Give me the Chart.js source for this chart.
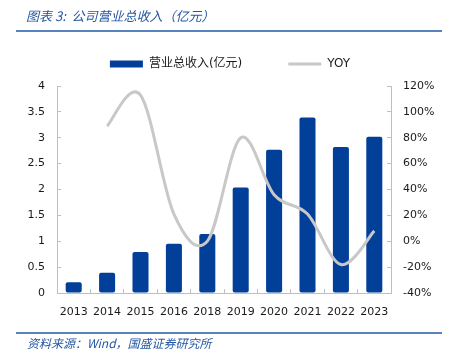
<!DOCTYPE html>
<html>
<head>
<meta charset="utf-8">
<script src="https://cdn.jsdelivr.net/npm/chart.js@4.4.1/dist/chart.umd.min.js"></script>
<style>
  body { margin: 0; background: #fff; }
  canvas { display: block; }
</style>
</head>
<body>
<canvas id="myChart" width="452" height="361"></canvas>
<script>
const years = ["2013", "2014", "2015", "2016", "2018", "2019", "2020", "2021", "2022", "2023"];
const revenue = [0.21, 0.39, 0.79, 0.95, 1.14, 2.04, 2.77, 3.39, 2.82, 3.02];
const yoy = [null, 89, 113, 21, 0, 80, 36, 21, -18, 8];

const BLUE = "#023f98";
const GREY_LINE = "#c8c8c8";
const AXIS = "#bfbfbf";
const HEAD = "#2557a3";

Chart.defaults.font.family = "'DejaVu Sans', 'Noto Sans CJK SC', sans-serif";
Chart.defaults.font.size = 11;
Chart.defaults.color = "#1a1a1a";

// header, rules and source line around the chart
const frame = {
  id: "frame",
  beforeDraw(chart) {
    const c = chart.ctx;
    c.save();
    c.fillStyle = "#fff";
    c.fillRect(0, 0, chart.width, chart.height);
    c.restore();
  },
  afterDraw(chart) {
    const c = chart.ctx;
    c.save();
    c.fillStyle = HEAD;
    c.textBaseline = "middle";
    c.font = "italic 13px 'Noto Sans CJK SC', sans-serif";
    c.fillText("图表 3:  公司营业总收入（亿元）", 26, 16);
    c.font = "italic 12px 'Noto Sans CJK SC', 'DejaVu Sans', sans-serif";
    c.fillText("资料来源：Wind，国盛证券研究所", 27, 343);
    c.strokeStyle = "#1f5aa8";
    c.lineWidth = 1.5;
    c.beginPath();
    c.moveTo(16, 31);
    c.lineTo(442, 31);
    c.moveTo(16, 333);
    c.lineTo(442, 333);
    c.stroke();
    c.restore();
  }
};

// Excel-like smoothing: uniform catmull-rom control points on the line's points
const smooth = {
  id: "smooth",
  beforeDatasetsDraw(chart) {
    chart.data.datasets.forEach((ds, i) => {
      if (ds.type !== "line") return;
      const meta = chart.getDatasetMeta(i);
      const line = meta.dataset;
      line.updateControlPoints(chart.chartArea, "x");
      const pts = meta.data.filter(p => !p.skip);
      pts.forEach((p, k) => {
        const p0 = pts[k - 1] || p;
        const p2 = pts[k + 1] || p;
        const dx = (p2.x - p0.x) / 6;
        const dy = (p2.y - p0.y) / 6;
        p.cp1x = p.x - dx; p.cp1y = p.y - dy;
        p.cp2x = p.x + dx; p.cp2y = p.y + dy;
      });
      line._path = undefined;
    });
  }
};

function axisGrid() {
  return { display: true, drawOnChartArea: false, drawTicks: true, tickLength: -4, color: AXIS };
}

new Chart(document.getElementById("myChart"), {
  data: {
    labels: years,
    datasets: [
      {
        type: "line",
        label: "YOY",
        data: yoy,
        yAxisID: "y1",
        borderColor: GREY_LINE,
        backgroundColor: GREY_LINE,
        borderWidth: 3,
        tension: 0.4,
        pointRadius: 0,
        pointStyle: "line",
        order: 0,
      },
      {
        type: "bar",
        label: "营业总收入(亿元)",
        data: revenue,
        yAxisID: "y",
        backgroundColor: BLUE,
        borderRadius: 2,
        borderSkipped: false,
        barPercentage: 0.48,
        categoryPercentage: 1,
        pointStyle: "rect",
        order: 1,
      },
    ],
  },
  options: {
    responsive: false,
    animation: false,
    devicePixelRatio: 1,
    layout: { padding: { top: 12, bottom: 38, left: 8, right: 0 } },
    plugins: {
      title: { display: false },
      // empty spacer between legend and plot
      subtitle: {
        display: true,
        text: "",
        weight: 500,
        padding: 0,
        font: { size: 6, lineHeight: 1 },
      },
      tooltip: { enabled: false },
      legend: {
        position: "top",
        reverse: true,
        labels: {
          usePointStyle: true,
          pointStyleWidth: 33,
          boxHeight: 7,
          padding: 46,
          font: { size: 12 },
          color: "#1a1a1a",
        },
      },
    },
    scales: {
      x: {
        grid: axisGrid(),
        border: { display: true, color: AXIS },
        ticks: { padding: 17, maxRotation: 0, autoSkip: false },
        afterFit: s => { s.height = 30; },
      },
      y: {
        position: "left",
        min: 0,
        max: 4,
        grid: axisGrid(),
        border: { display: true, color: AXIS },
        ticks: { stepSize: 0.5, padding: 16, callback: v => String(v) },
        afterFit: s => { s.width = 49; },
      },
      y1: {
        position: "right",
        min: -40,
        max: 120,
        grid: axisGrid(),
        border: { display: true, color: AXIS },
        ticks: { stepSize: 20, padding: 16, callback: v => v + "%" },
        afterFit: s => { s.width = 61; },
      },
    },
  },
  plugins: [frame, smooth],
});
</script>
</body>
</html>
